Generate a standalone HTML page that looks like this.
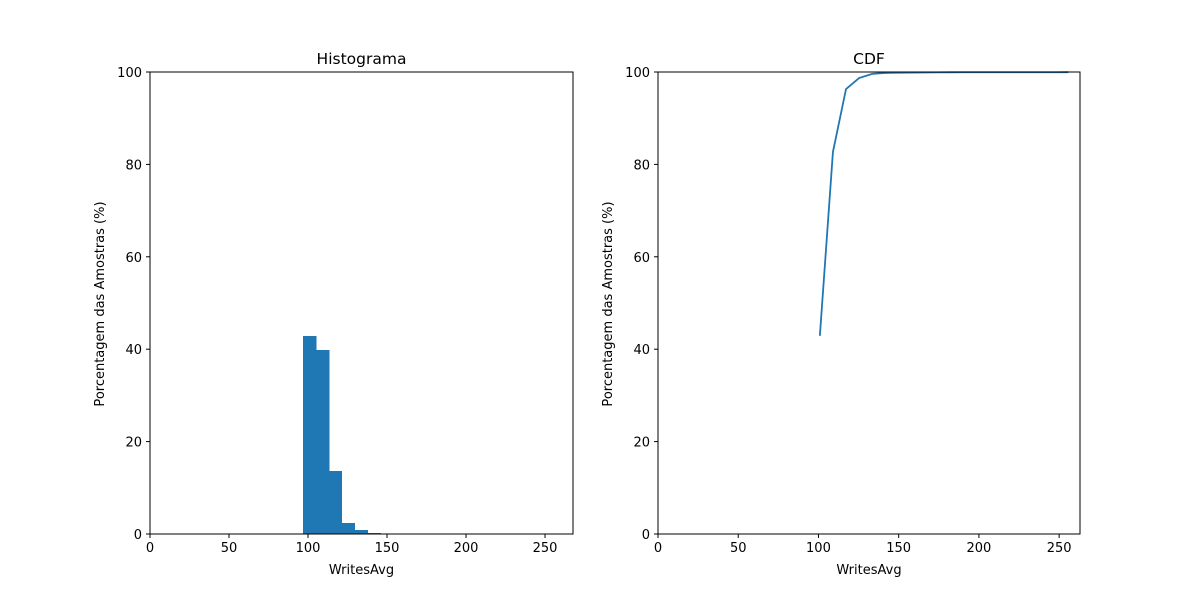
<!DOCTYPE html>
<html><head><meta charset="utf-8"><style>
body{margin:0;background:#fff;font-family:"Liberation Sans","DejaVu Sans",sans-serif;}
svg text{font-family:"DejaVu Sans","Liberation Sans",sans-serif;font-size:13px;fill:#000;}
</style></head><body>
<svg id="c" width="1200" height="600"></svg>
<script>
const binStart = 96.8;
const binWidth = 8.15;
const histValues = [42.9, 39.8, 13.6, 2.4, 0.9, 0.2, 0.05, 0.03, 0.02, 0.02, 0.01, 0.01, 0.01, 0.0, 0.0, 0.0, 0.0, 0.0, 0.0, 0.01];
const xTicks = [0, 50, 100, 150, 200, 250];
const yTicks = [0, 20, 40, 60, 80, 100];

const svg = document.getElementById('c');
const NS = 'http://www.w3.org/2000/svg';
function mk(tag, attrs, parent){const e=document.createElementNS(NS,tag);for(const k in attrs)e.setAttribute(k,attrs[k]);(parent||svg).appendChild(e);return e;}

function axes(x0,x1,xmax,title,name){
  const y0=72,y1=534;
  const g=mk('g',{});
  
  
  const sx=v=>x0+v/xmax*(x1-x0);
  const sy=v=>y1-v/100*(y1-y0);
  return {g,sx,sy,x0,x1,y0,y1,title};
}
function frame(a){
  const f=mk('rect',{x:a.x0,y:a.y0,width:a.x1-a.x0,height:a.y1-a.y0,fill:'none',stroke:'#000','stroke-width':1},a.g);
  
  
  xTicks.forEach(t=>{const x=a.sx(t);mk('line',{x1:x,x2:x,y1:a.y1,y2:a.y1+4,stroke:'#000'},a.g);
    const tx=mk('text',{x:x,y:a.y1+18,'text-anchor':'middle'},a.g);tx.textContent=t;
    
    });
  yTicks.forEach(t=>{const y=a.sy(t);mk('line',{x1:a.x0-4,x2:a.x0,y1:y,y2:y,stroke:'#000'},a.g);
    const tx=mk('text',{x:a.x0-8,y:y+5,'text-anchor':'end'},a.g);tx.textContent=t;
    
    });
  const tt=mk('text',{x:(a.x0+a.x1)/2,y:a.y0-8,'text-anchor':'middle',style:'font-size:15.5px'},a.g);tt.textContent=a.title;
  
  
  const xl=mk('text',{x:(a.x0+a.x1)/2,y:574,'text-anchor':'middle'},a.g);xl.textContent='WritesAvg';
  
  
  const cy=(a.y0+a.y1)/2+1, cx=a.x0-46;
  const yl=mk('text',{x:cx,y:cy,'text-anchor':'middle',transform:`rotate(-90 ${cx} ${cy})`},a.g);yl.textContent='Porcentagem das Amostras (%)';
  
  
}

const A=axes(150,573,267.7,'Histograma','histogram-panel');
histValues.forEach((v,i)=>{
  const xa=A.sx(binStart+i*binWidth), xb=A.sx(binStart+(i+1)*binWidth);
  const r=mk('rect',{x:xa,y:A.sy(v),width:xb-xa+0.6,height:A.sy(0)-A.sy(v),fill:'#1f77b4','shape-rendering':'crispEdges'},A.g);
  
  
});
frame(A);

const B=axes(658,1080,263,'CDF','cdf-panel');
let cum=0, pts=[];
histValues.forEach((v,i)=>{cum+=v;pts.push(B.sx(binStart+(i+0.5)*binWidth)+','+B.sy(Math.min(cum,100)));});
const pl=mk('polyline',{points:pts.join(' '),fill:'none',stroke:'#1f77b4','stroke-width':1.8},B.g);


frame(B);
</script>
</body></html>
